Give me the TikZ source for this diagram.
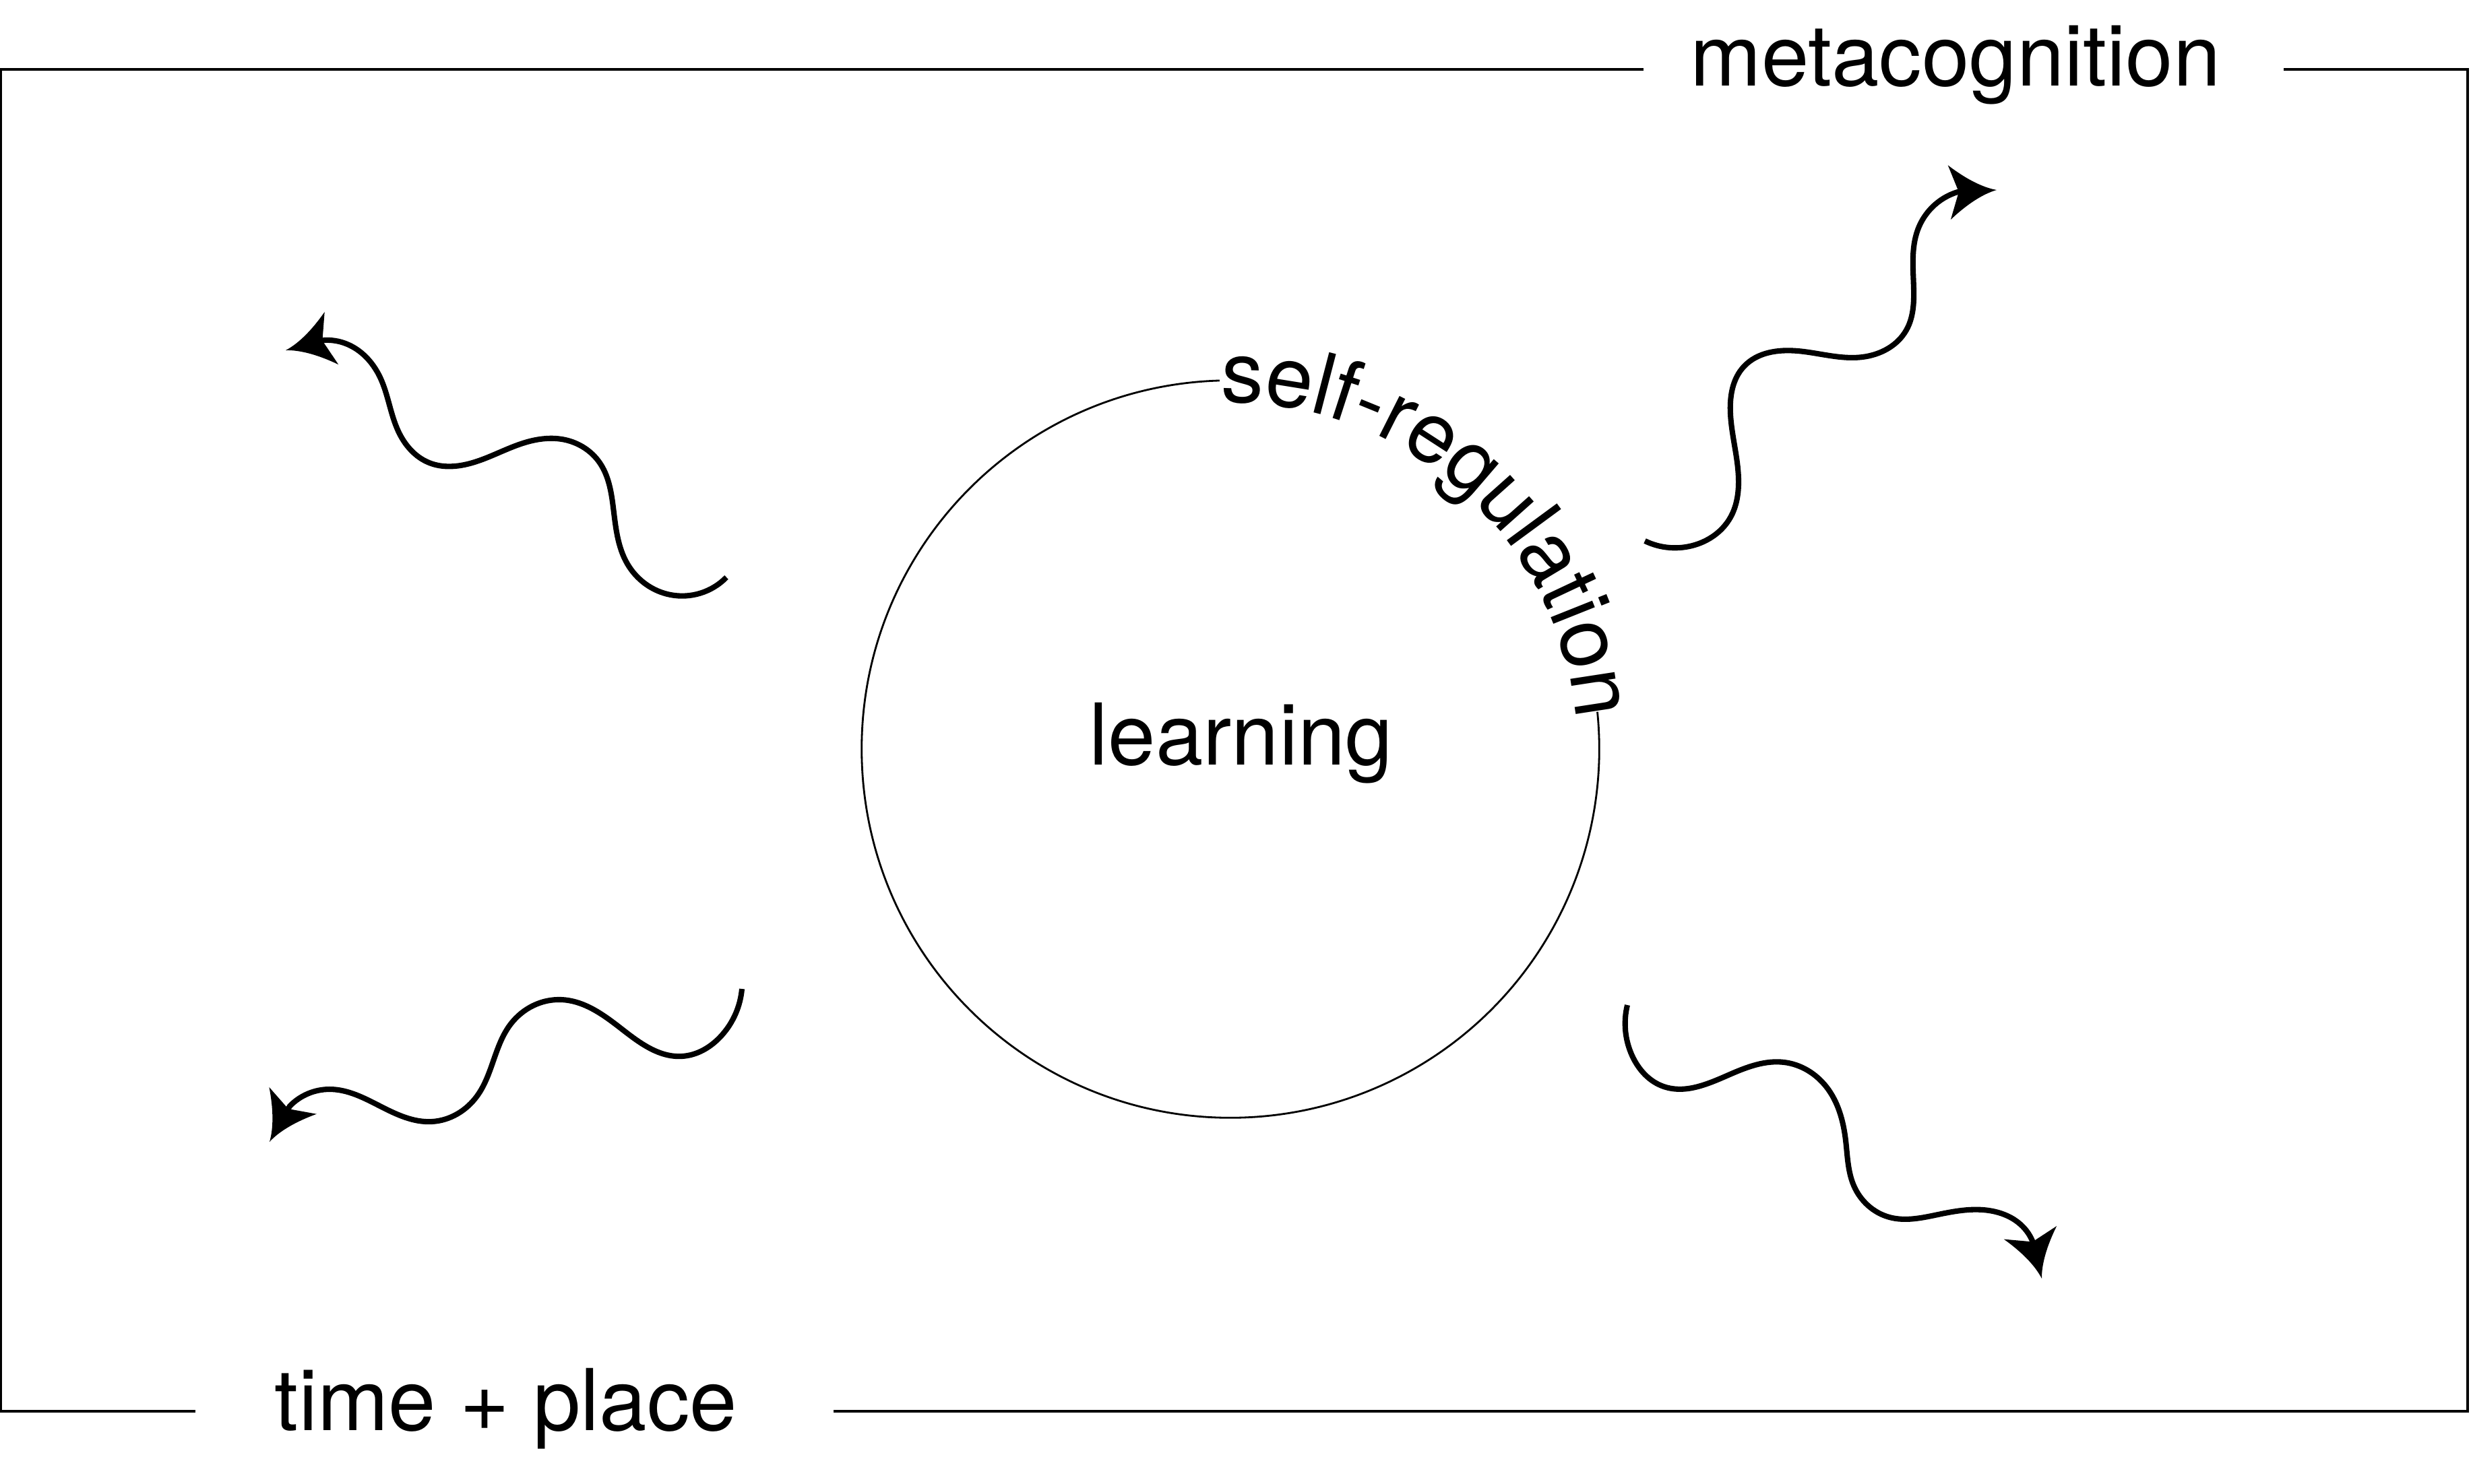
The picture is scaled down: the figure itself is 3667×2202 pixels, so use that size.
\documentclass[tikz,border=0pt]{standalone}
\usepackage{fontspec}
\setmainfont{TeX Gyre Heros}
\usetikzlibrary{arrows.meta,decorations.text,hobby}

\pgfdeclarearrow{
  name = Swoop,
  parameters = {\the\pgfarrowlength,\the\pgfarrowwidth},
  setup code = {
    \pgfarrowssettipend{0pt}
    \pgfarrowssetbackend{-\pgfarrowlength}
    \pgfarrowssetlineend{-0.76\pgfarrowlength}
    \pgfarrowssavethe\pgfarrowlength
    \pgfarrowssavethe\pgfarrowwidth
  },
  drawing code = {
    \pgfpathmoveto{\pgfqpoint{0pt}{0pt}}
    \pgfpathcurveto{\pgfqpoint{-0.3\pgfarrowlength}{0.06\pgfarrowwidth}}{\pgfqpoint{-0.65\pgfarrowlength}{0.24\pgfarrowwidth}}{\pgfqpoint{-\pgfarrowlength}{0.5\pgfarrowwidth}}
    \pgfpathlineto{\pgfqpoint{-0.8\pgfarrowlength}{0pt}}
    \pgfpathlineto{\pgfqpoint{-\pgfarrowlength}{-0.5\pgfarrowwidth}}
    \pgfpathcurveto{\pgfqpoint{-0.65\pgfarrowlength}{-0.24\pgfarrowwidth}}{\pgfqpoint{-0.3\pgfarrowlength}{-0.06\pgfarrowwidth}}{\pgfqpoint{0pt}{0pt}}
    \pgfpathclose
    \pgfusepathqfill
  },
  defaults = {length = 20pt, width = 22pt}
}

\begin{document}
\begin{tikzpicture}[x=0.01cm,y=-0.01cm,
  frame/.style={line width=1.1pt},
  ring/.style={line width=0.8pt},
  wiggle/.style={use Hobby shortcut, line width=2.3pt, line join=round, -{Swoop[length=20pt,width=23pt]}},
  lbl/.style={font=\fontsize{36}{43}\selectfont, inner sep=0pt}]
\useasboundingbox (0,0) rectangle (3667,2202);

% frame with labels
\node[lbl, anchor=base] (meta) at (2902,127) {metacognition};
\node[lbl, anchor=base] (tp) at (751,2123) {time + place};
\draw[frame] (2439,103) -- (1.5,103) -- (1.5,2095) -- (290,2095);
\draw[frame] (1237,2095) -- (3662,2095) -- (3662,103) -- (3389,103);

% circle with self-regulation
\coordinate (C) at (1826,1112);
\node[lbl, anchor=base] (learn) at (1842,1135) {learning};
\draw[ring] (C) ++(91.7:5.47cm) arc[start angle=91.7, end angle=365.8, radius=5.47cm];
\path[decorate, decoration={text along path, text align=left, raise=-0.11cm,
   text={|\fontsize{36}{43}\selectfont|self-regulation}}]
   (C) ++(91.6:5.25cm) arc[start angle=91.6, end angle=-12, radius=5.25cm];

% upper left squiggle
\coordinate (ulS) at (1078,857);
\coordinate (ulT) at (424,520);
\draw[wiggle] (ulS) .. (995,883) .. (931,837) .. (910,753) .. (890,687) .. (839,653) .. (779,657) .. (701,687) .. (637,687) .. (591,640) .. (564,560) .. (513,510) .. (481,505) -- (ulT);

% upper right squiggle
\coordinate (urS) at (2441,803);
\coordinate (urT) at (2963,282);
\draw[wiggle] (urS) .. (2515,809) .. (2568,768) .. (2580,718) .. (2568,615) .. (2588,544) .. (2668,521) .. (2764,530) .. (2829,490) .. (2840,430) .. (2846,341) .. (2867,308) .. (2905,285) -- (urT);

% lower left squiggle
\coordinate (llS) at (1101,1468);
\coordinate (llT) at (400,1695);
\draw[wiggle] (llS) .. (1071,1537) .. (1012,1568) .. (922,1527) .. (833,1484) .. (758,1520) .. (708,1627) .. (641,1665) .. (564,1642) .. (489,1617) .. (430,1642) -- (llT);

% lower right squiggle
\coordinate (lrS) at (2415,1492);
\coordinate (lrT) at (3030,1898);
\draw[wiggle] (lrS) .. (2422,1567) .. (2469,1613) .. (2567,1595) .. (2648,1577) .. (2710,1613) .. (2739,1693) .. (2751,1760) .. (2804,1807) .. (2876,1803) .. (2943,1796) .. (3001,1820) .. (3016,1842) -- (lrT);
\end{tikzpicture}
\end{document}
